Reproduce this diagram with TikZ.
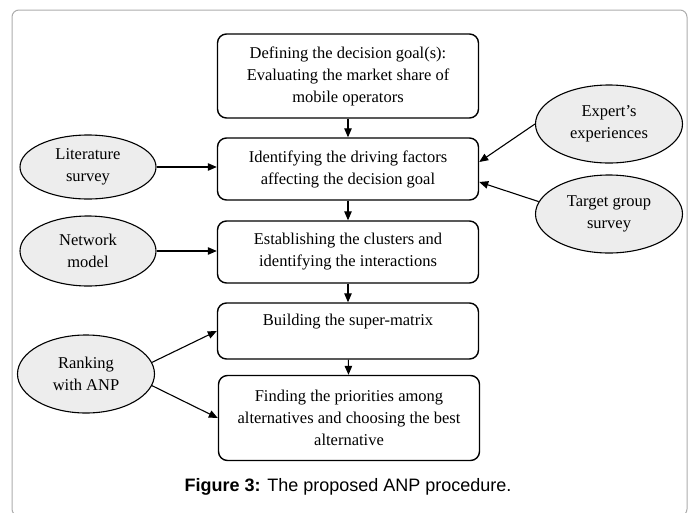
\documentclass[tikz,border=0pt]{standalone}
\usepackage{fontspec}
\setmainfont{Liberation Serif}
\newfontfamily\capfont{Liberation Sans}
\usetikzlibrary{arrows.meta,shapes.geometric}
\begin{document}
\begin{tikzpicture}[x=1pt,y=-1pt,
    box/.style={draw,rounded corners=9pt,line width=1.4pt,minimum width=261pt,align=center,inner sep=0pt,font=\fontsize{16.5}{22}\selectfont},
    oval/.style={draw,ellipse,fill=gray!14,line width=1.1pt,align=center,inner sep=0pt,font=\fontsize{16.5}{22}\selectfont},
    arr/.style={-{Triangle[length=9pt,width=7.5pt]},line width=1.1pt}]
      \useasboundingbox (0,0) rectangle (696,512);
      %frame
      \draw[gray!65,line width=1pt,rounded corners=7pt] (12,10) rectangle (687,516);
      %steps
      \node[box,minimum height=84pt] (goal) at (348,76) {Defining the decision goal(s):\\Evaluating the market share of\\mobile operators};
      \node[box,minimum height=62pt] (factors) at (348,169) {Identifying the driving factors\\affecting the decision goal};
      \node[box,minimum height=62pt] (clusters) at (348,252) {Establishing the clusters and\\identifying the interactions};
      \node[box,minimum height=56pt] (supmat) at (348,331) {Building the super-matrix\\\mbox{}};
      \node[box,minimum height=85pt] (prio) at (349,418) {Finding the priorities among\\alternatives and choosing the best\\alternative};
      %inputs
      \node[oval,minimum width=136pt,minimum height=64pt] (lit) at (88,167) {Literature\\survey};
      \node[oval,minimum width=136pt,minimum height=70pt] (net) at (88,251) {Network\\model};
      \node[oval,minimum width=137pt,minimum height=78pt] (rank) at (86,374) {Ranking\\with ANP};
      \node[oval,minimum width=147pt,minimum height=78pt] (expert) at (609,124) {Expert's\\experiences};
      \node[oval,minimum width=147pt,minimum height=78pt] (target) at (609,214) {Target group\\survey};
      %arrows
      \draw[arr] (goal) -- (factors);
      \draw[arr] (factors) -- (clusters);
      \draw[arr] (clusters) -- (supmat);
      \draw[arr] (supmat) -- (prio);
      \draw[arr] (lit.east) -- (lit.east -| factors.west);
      \draw[arr] (net.east) -- (net.east -| clusters.west);
      \draw[arr] (expert.west) -- ([yshift=7pt]factors.east);
      \draw[arr] (target.170) -- ([yshift=-13pt]factors.east);
      \draw[arr] (rank.10) -- (supmat.west);
      \draw[arr] (rank.-10) -- (prio.west);
      %caption
      \node[font=\capfont\fontsize{18}{22}\selectfont] (cap) at (348,487) {\textbf{Figure 3:} The proposed ANP procedure.};
\end{tikzpicture}
\end{document}
